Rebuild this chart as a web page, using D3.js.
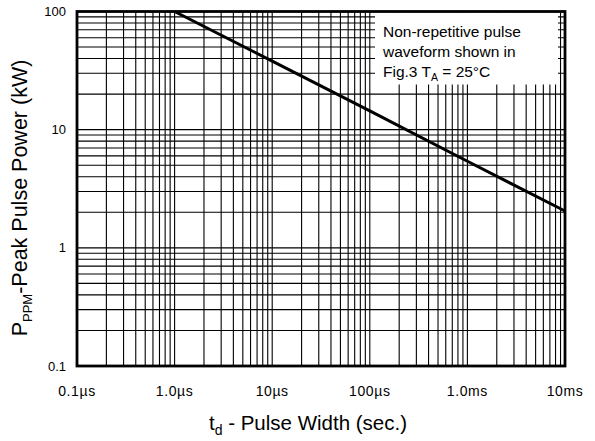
<!DOCTYPE html>
<html>
<head>
<meta charset="utf-8">
<script src="https://cdn.jsdelivr.net/npm/d3@7"></script>
<style>
  body { margin: 0; background: #fff; }
  text { font-family: "Liberation Sans", Arial, sans-serif; fill: #000; }
</style>
</head>
<body>
<svg id="mainFrame"></svg>
<script>
// pulse width (s) vs peak pulse power (kW)
const pulseWidth = [1e-6, 1e-5, 1e-4, 1e-3, 1e-2];
const peakPower = [100, 38, 14.4, 5.4, 2.05];

const xTickValues = [1e-7, 1e-6, 1e-5, 1e-4, 1e-3, 1e-2];
const xTickLabels = ['0.1µs', '1.0µs', '10µs', '100µs', '1.0ms', '10ms'];
const yTickValues = [0.1, 1, 10, 100];
const yTickLabels = ['0.1', '1', '10', '100'];

const legendLines = ['Non-repetitive pulse', 'waveform shown in'];

const width = 595, height = 441;
const margin = { top: 11.5, right: 30, bottom: 75, left: 77 };
const innerW = width - margin.left - margin.right;
const innerH = height - margin.top - margin.bottom;

const svg = d3.select('#mainFrame')
    .attr('width', width)
    .attr('height', height);

const g = svg.append('g')
    .attr('transform', `translate(${margin.left},${margin.top})`);

const x = d3.scaleLog().domain([1e-7, 1e-2]).range([0, innerW]);
const y = d3.scaleLog().domain([0.1, 100]).range([innerH, 0]);

// minor grid: 1..9 in every decade
const gridX = [];
for (let e = -7; e < -2; e++) for (let m = 1; m < 10; m++) gridX.push(m * Math.pow(10, e));
const gridY = [];
for (let e = -1; e < 2; e++) for (let m = 1; m < 10; m++) gridY.push(m * Math.pow(10, e));

g.append('g').selectAll('line')
    .data(gridX)
    .join('line')
    .attr('x1', d => x(d)).attr('x2', d => x(d))
    .attr('y1', 0).attr('y2', innerH)
    .attr('stroke', '#000')
    .attr('stroke-width', 1.1);

g.append('g').selectAll('line')
    .data(gridY)
    .join('line')
    .attr('y1', d => y(d)).attr('y2', d => y(d))
    .attr('x1', 0).attr('x2', innerW)
    .attr('stroke', '#000')
    .attr('stroke-width', 1.1);

// legend box (white, no border) over the grid
const legend = g.append('g').attr('transform', 'translate(298, 0)');
legend.append('rect')
    .attr('x', 0).attr('y', 1)
    .attr('width', 183).attr('height', 72)
    .attr('fill', '#fff');
legend.selectAll('text.line')
    .data(legendLines)
    .join('text')
    .attr('class', 'line')
    .attr('x', 8)
    .attr('y', (d, i) => 25 + i * 20)
    .style('font-size', '15.5px')
    .text(d => d);
const fig = legend.append('text')
    .attr('x', 8).attr('y', 65)
    .style('font-size', '15.5px');
fig.append('tspan').text('Fig.3 T');
fig.append('tspan').attr('dy', 4).style('font-size', '10.5px').text('A');
fig.append('tspan').attr('dy', -4).text(' = 25°C');

// the curve
const line = d3.line()
    .x(d => x(d[0]))
    .y(d => y(d[1]));
g.append('path')
    .datum(pulseWidth.map((d, i) => [d, peakPower[i]]))
    .attr('d', line)
    .attr('fill', 'none')
    .attr('stroke', '#000')
    .attr('stroke-width', 3);

// frame
g.append('rect')
    .attr('x', 0).attr('y', 0)
    .attr('width', innerW).attr('height', innerH)
    .attr('fill', 'none')
    .attr('stroke', '#000')
    .attr('stroke-width', 2.8);

// tick labels
g.append('g').selectAll('text')
    .data(xTickValues)
    .join('text')
    .attr('x', d => x(d))
    .attr('y', innerH + 30)
    .attr('text-anchor', 'middle')
    .style('font-size', '14px')
    .style('letter-spacing', '0.6px')
    .text((d, i) => xTickLabels[i]);

g.append('g').selectAll('text')
    .data(yTickValues)
    .join('text')
    .attr('x', -11)
    .attr('y', d => y(d))
    .attr('dy', '0.35em')
    .attr('text-anchor', 'end')
    .style('font-size', '13px')
    .text((d, i) => yTickLabels[i]);

// axis titles
const xt = svg.append('text')
    .attr('x', 308)
    .attr('y', 430)
    .attr('text-anchor', 'middle')
    .style('font-size', '20.5px');
xt.append('tspan').text('t');
xt.append('tspan').attr('dy', 5).style('font-size', '14px').text('d');
xt.append('tspan').attr('dy', -5).text(' - Pulse Width (sec.)');

const yt = svg.append('text')
    .attr('transform', 'translate(27, 198) rotate(-90)')
    .attr('text-anchor', 'middle')
    .style('font-size', '21.5px');
yt.append('tspan').text('P');
yt.append('tspan').attr('dy', 5).style('font-size', '13px').text('PPM');
yt.append('tspan').attr('dy', -5).text('-Peak Pulse Power (kW)');
</script>
</body>
</html>
